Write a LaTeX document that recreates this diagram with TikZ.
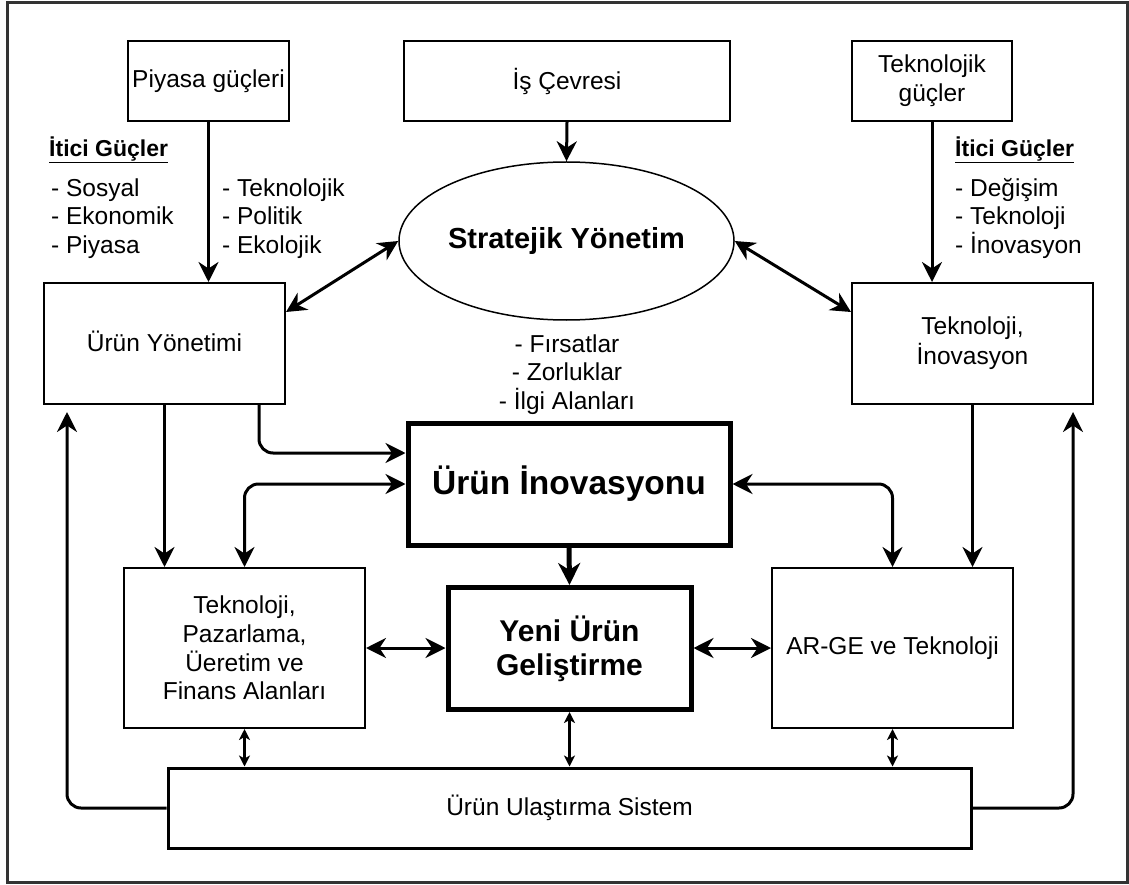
\documentclass[tikz,border=0pt]{standalone}
\usepackage{fontspec}
\setmainfont{Liberation Sans}
\usetikzlibrary{arrows.meta,shapes.geometric,calc}

\begin{document}
\begin{tikzpicture}[x=1pt,y=-1pt,
  font=\fontsize{24.5}{28.7}\selectfont,
  box/.style={draw, line width=2pt, rectangle, align=center, inner sep=2pt},
  bigbox/.style={draw, line width=5pt, rectangle, align=center, inner sep=2pt},
  tipb/.tip={Stealth[length=20pt,width=20pt,inset=6.5pt]},
  tips/.tip={Stealth[length=11pt,width=11pt,inset=3pt]},
  arr/.style={line width=3pt, -tipb},
  darr/.style={line width=3pt, tipb-tipb},
  sdarr/.style={line width=2.5pt, tips-tips},
  lbl/.style={align=left, inner sep=0pt, anchor=west},
  rc/.style={rounded corners=14pt},
]
\useasboundingbox (0,0) rectangle (1129,885);
% outer frame
\draw[line width=3pt, black!80] (7,3) rectangle (1127,882);

% top row of boxes
\node[box, minimum width=161pt, minimum height=80pt] (piy) at (208.5,81) {Piyasa güçleri};
\node[box, minimum width=326pt, minimum height=80pt] (is) at (567,81) {İş Çevresi};
\node[box, minimum width=160pt, minimum height=80pt] (tekg) at (932,81) {Teknolojik\\güçler};

% strategic management
\node[draw, ellipse, line width=1.5pt, minimum width=323pt, minimum height=158pt, inner sep=0pt,
      font=\fontsize{29}{34}\selectfont\bfseries] (strat) at (566.5,241) {Stratejik Yönetim};

% middle row
\node[box, minimum width=241pt, minimum height=121pt] (uy) at (164.5,343.5) {\raisebox{5pt}{Ürün Yönetimi}};
\node[box, minimum width=241pt, minimum height=121pt] (ti) at (972.5,343.5) {\raisebox{4pt}{\begin{tabular}{@{}c@{}}Teknoloji,\\İnovasyon\end{tabular}}};

% driving forces labels
\node[lbl, font=\fontsize{23}{28}\selectfont\bfseries] (itl) at (49,150) {\underline{İtici Güçler}};
\node[lbl] (ll) at (51,218.5) {- Sosyal\\- Ekonomik\\- Piyasa};
\node[lbl] (lm) at (222,218.5) {- Teknolojik\\- Politik\\- Ekolojik};
\node[lbl, font=\fontsize{23}{28}\selectfont\bfseries] (itr) at (955,150) {\underline{İtici Güçler}};
\node[lbl] (rl) at (955,218.5) {- Değişim\\- Teknoloji\\- İnovasyon};
\node[align=center, inner sep=0pt] (firs) at (567,374.5) {- Fırsatlar\\- Zorluklar\\- İlgi Alanları};

% central boxes
\node[bigbox, minimum width=322pt, minimum height=122pt,
      font=\fontsize{33.5}{38}\selectfont\bfseries] (ui) at (569,484) {Ürün İnovasyonu};
\node[bigbox, minimum width=243pt, minimum height=122pt,
      font=\fontsize{30}{34}\selectfont\bfseries] (yeni) at (569.5,648.5) {Yeni Ürün\\Geliştirme};

% lower row
\node[box, minimum width=241pt, minimum height=160pt] (tpf) at (244.5,648) {Teknoloji,\\Pazarlama,\\Üeretim ve\\Finans Alanları};
\node[box, minimum width=241pt, minimum height=160pt] (arge) at (892.5,648) {AR-GE ve Teknoloji};
\node[box, line width=3pt, minimum width=803pt, minimum height=80pt] (ulas) at (569.5,808) {Ürün Ulaştırma Sistem};

% return line end points
\coordinate (lu) at (67,412);
\coordinate (ru) at (1073,412);

% connectors
\draw[arr] (piy.south) -- (piy.south |- uy.north);
\draw[arr] (is.south) -- (strat.north);
\draw[arr] (tekg.south) -- (tekg.south |- ti.north);
\draw[darr] (strat.west) -- ($(uy.north east)+(0,30)$);
\draw[darr] (strat.east) -- ($(ti.north west)+(0,30)$);

\draw[arr, rc] ($(uy.south east)+(-27,0)$) |- ($(ui.west)+(0,-31)$);
\draw[darr, rc] (tpf.north) |- (ui.west);
\draw[arr] (uy.south) -- (uy.south |- tpf.north);
\draw[arr] (ti.south) -- (ti.south |- arge.north);
\draw[darr, rc] (ui.east) -| (arge.north);
\draw[line width=5pt, -{Stealth[length=22pt,width=22pt,inset=7pt]}] (ui.south) -- (yeni.north);

\draw[darr] (tpf.east) -- (tpf.east -| yeni.west);
\draw[darr] (arge.west) -- (arge.west -| yeni.east);

\draw[sdarr] (tpf.south) -- (tpf.south |- ulas.north);
\draw[sdarr] (yeni.south) -- (yeni.south |- ulas.north);
\draw[sdarr] (arge.south) -- (arge.south |- ulas.north);

\draw[arr, rc] (ulas.west) -| (lu);
\draw[arr, rc] (ulas.east) -| (ru);
\end{tikzpicture}
\end{document}
